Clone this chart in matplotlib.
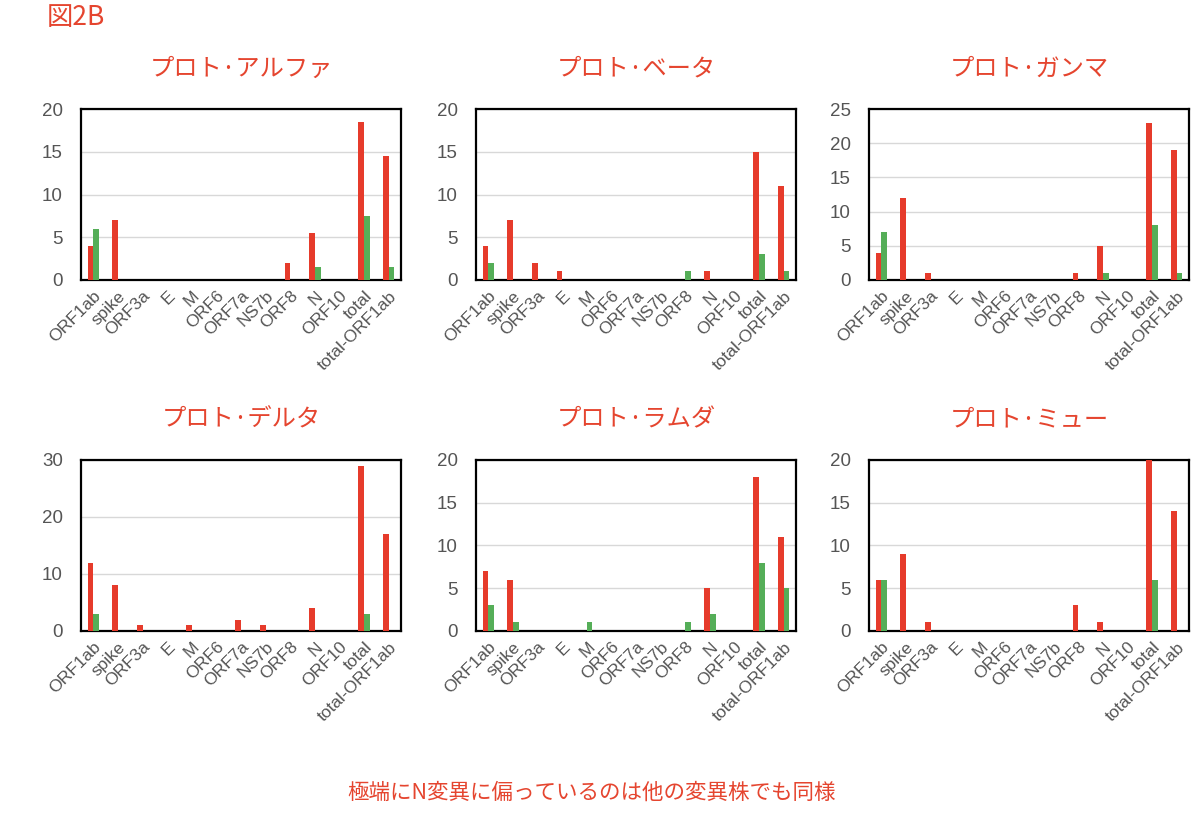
import matplotlib
matplotlib.use("Agg")
import matplotlib.pyplot as plt
import numpy as np

plt.rcParams['font.family'] = ['Liberation Sans', 'Noto Sans CJK JP', 'DejaVu Sans']

categories = ["ORF1ab", "spike", "ORF3a", "E", "M", "ORF6", "ORF7a", "NS7b",
              "ORF8", "N", "ORF10", "total", "total-ORF1ab"]

titles = ["プロト·アルファ", "プロト·ベータ", "プロト·ガンマ",
          "プロト·デルタ", "プロト·ラムダ", "プロト·ミュー"]

alpha_red   = [4, 7, 0, 0, 0, 0, 0, 0, 2, 5.5, 0, 18.5, 14.5]
alpha_green = [6, 0, 0, 0, 0, 0, 0, 0, 0, 1.5, 0, 7.5, 1.5]
beta_red    = [4, 7, 2, 1, 0, 0, 0, 0, 0, 1, 0, 15, 11]
beta_green  = [2, 0, 0, 0, 0, 0, 0, 0, 1, 0, 0, 3, 1]
gamma_red   = [4, 12, 1, 0, 0, 0, 0, 0, 1, 5, 0, 23, 19]
gamma_green = [7, 0, 0, 0, 0, 0, 0, 0, 0, 1, 0, 8, 1]
delta_red   = [12, 8, 1, 0, 1, 0, 2, 1, 0, 4, 0, 29, 17]
delta_green = [3, 0, 0, 0, 0, 0, 0, 0, 0, 0, 0, 3, 0]
lambda_red  = [7, 6, 0, 0, 0, 0, 0, 0, 0, 5, 0, 18, 11]
lambda_green= [3, 1, 0, 0, 1, 0, 0, 0, 1, 2, 0, 8, 5]
mu_red      = [6, 9, 1, 0, 0, 0, 0, 0, 3, 1, 0, 20, 14]
mu_green    = [6, 0, 0, 0, 0, 0, 0, 0, 0, 0, 0, 6, 0]

reds = [alpha_red, beta_red, gamma_red, delta_red, lambda_red, mu_red]
greens = [alpha_green, beta_green, gamma_green, delta_green, lambda_green, mu_green]
ymaxes = [20, 20, 25, 30, 20, 20]
ysteps = [5, 5, 5, 10, 5, 5]

RED = "#E63B2B"
GREEN = "#55AE58"
TXT = "#E5452F"

fig = plt.figure(figsize=(12, 8.13), dpi=100)

lefts = [0.0675, 0.3967, 0.7242]
bottoms = [0.6556, 0.2239]
w, h = 0.2667, 0.2103

x = np.arange(len(categories))
bw = 0.23
for i in range(6):
    r, c = divmod(i, 3)
    ax = fig.add_axes([lefts[c], bottoms[r], w, h])
    ax.bar(x - bw / 2, reds[i], width=bw, color=RED, zorder=3)
    ax.bar(x + bw / 2, greens[i], width=bw, color=GREEN, zorder=3)
    ax.set_xlim(-0.5, len(categories) - 0.5)
    ax.set_ylim(0, ymaxes[i])
    ax.set_yticks(np.arange(0, ymaxes[i] + 1, ysteps[i]))
    ax.yaxis.grid(True, color="#D8D8D8", linewidth=1.0, zorder=0)
    ax.set_axisbelow(True)
    ax.set_xticks(x)
    ax.set_xticklabels(categories, rotation=45, ha="right", rotation_mode="anchor",
                       fontsize=12.5, color="#555555")
    ax.tick_params(axis="both", length=0, labelcolor="#555555")
    ax.tick_params(axis="y", labelsize=13.5, pad=13)
    ax.tick_params(axis="x", pad=6)
    for sp in ax.spines.values():
        sp.set_linewidth(1.6)
        sp.set_color("black")
    ax.text(0.5, 1.235, titles[i], transform=ax.transAxes, ha="center", va="center",
            fontsize=17.5, color=TXT, family=['Noto Sans CJK JP', 'DejaVu Sans'])

fig.text(0.039, 0.978, "図2B", ha="left", va="center", fontsize=19, color=TXT,
         family=['Noto Sans CJK JP', 'DejaVu Sans'])
fig.text(0.493, 0.025, "極端にN変異に偏っているのは他の変異株でも同様", ha="center", va="center",
         fontsize=15.5, color=TXT, family=['Noto Sans CJK JP', 'DejaVu Sans'])

fig.savefig("out.png", dpi=100)
